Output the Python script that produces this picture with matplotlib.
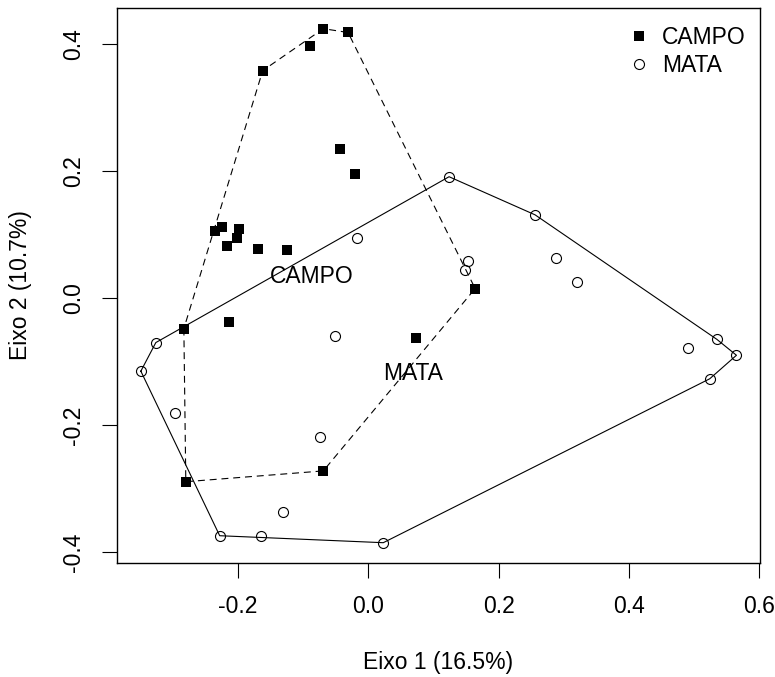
import numpy as np
import matplotlib
matplotlib.use("Agg")
import matplotlib.pyplot as plt
from matplotlib.lines import Line2D

plt.rcParams['font.family'] = ['Liberation Sans', 'DejaVu Sans']
plt.rcParams['lines.scale_dashes'] = False

# scores on the first two axes
campo_x = [-0.162, -0.089, -0.069, -0.031, -0.044, -0.021, -0.235, -0.224, -0.199, -0.202,
           -0.217, -0.169, -0.124, 0.164, -0.283, -0.214, 0.074, -0.069, -0.280]
campo_y = [0.358, 0.396, 0.424, 0.418, 0.234, 0.196, 0.106, 0.112, 0.109, 0.094,
           0.082, 0.077, 0.076, 0.015, -0.048, -0.037, -0.063, -0.272, -0.289]

mata_x = [0.124, -0.017, 0.153, 0.149, 0.256, 0.288, 0.320, 0.490, 0.535, 0.565,
          0.524, -0.326, -0.349, -0.297, -0.051, -0.074, -0.131, -0.228, -0.164, 0.023]
mata_y = [0.191, 0.095, 0.059, 0.044, 0.131, 0.063, 0.026, -0.079, -0.065, -0.090,
          -0.127, -0.070, -0.115, -0.181, -0.060, -0.218, -0.336, -0.374, -0.374, -0.385]

x_ticks = [-0.2, 0.0, 0.2, 0.4, 0.6]
y_ticks = [-0.4, -0.2, 0.0, 0.2, 0.4]
x_title = "Eixo 1 (16.5%)"
y_title = "Eixo 2 (10.7%)"


def hull(xs, ys):
    pts = sorted(set(zip(xs, ys)))

    def cross(o, a, b):
        return (a[0] - o[0]) * (b[1] - o[1]) - (a[1] - o[1]) * (b[0] - o[0])

    lower, upper = [], []
    for p in pts:
        while len(lower) >= 2 and cross(lower[-2], lower[-1], p) <= 0:
            lower.pop()
        lower.append(p)
    for p in reversed(pts):
        while len(upper) >= 2 and cross(upper[-2], upper[-1], p) <= 0:
            upper.pop()
        upper.append(p)
    return np.array(lower[:-1] + upper[:-1])


def poly_centre(h):
    x, y = h[:, 0], h[:, 1]
    x1, y1 = np.roll(x, -1), np.roll(y, -1)
    c = x * y1 - x1 * y
    a = c.sum() / 2
    return (x + x1).dot(c) / (6 * a), (y + y1).dot(c) / (6 * a)


fig = plt.figure(figsize=(7.75, 6.77), dpi=100)
ax = fig.add_axes([0.151, 0.168, 0.830, 0.820])

ax.plot(campo_x, campo_y, 's', color='black', ms=7.2, mew=0)
ax.plot(mata_x, mata_y, 'o', mfc='none', mec='black', ms=7.2, mew=0.8)

for xs, ys, ls, name in [(campo_x, campo_y, (0, (5, 3.5)), "CAMPO"),
                         (mata_x, mata_y, '-', "MATA")]:
    h = hull(xs, ys)
    closed = np.vstack([h, h[:1]])
    ax.plot(closed[:, 0], closed[:, 1], color='black', lw=0.8, linestyle=ls)
    cx, cy = poly_centre(h)
    ax.text(cx, cy, name, ha='center', va='center_baseline', fontsize=16.5)

xr = max(campo_x + mata_x) - min(campo_x + mata_x)
yr = max(campo_y + mata_y) - min(campo_y + mata_y)
ax.set_xlim(min(campo_x + mata_x) - 0.04 * xr, max(campo_x + mata_x) + 0.04 * xr)
ax.set_ylim(min(campo_y + mata_y) - 0.04 * yr, max(campo_y + mata_y) + 0.04 * yr)

ax.set_xticks(x_ticks)
ax.set_xticklabels([f"{v:.1f}" for v in x_ticks])
ax.set_yticks(y_ticks)
ax.set_yticklabels([f"{v:.1f}" for v in y_ticks], rotation=90, va='center')
ax.tick_params(labelsize=16.5, length=11, width=0.8, pad=12, direction='out')
for s in ax.spines.values():
    s.set_linewidth(1.0)

fig.text(438 / 775, 1 - 663 / 677, x_title, ha='center', va='center', fontsize=16.5)
fig.text(21 / 775, 1 - 285 / 677, y_title, ha='center', va='center', fontsize=16.5, rotation=90)

handles = [Line2D([], [], marker='s', ls='none', color='black', ms=7.5, mew=0),
           Line2D([], [], marker='o', ls='none', mfc='none', mec='black', ms=7.2, mew=0.8)]
ax.legend(handles, ["CAMPO", "MATA"], loc='upper right', bbox_to_anchor=(746 / 775, 1 - 25.7 / 677),
          bbox_transform=fig.transFigure, frameon=False, fontsize=16.5, borderpad=0,
          borderaxespad=0, handlelength=1.0, handletextpad=0.52, labelspacing=0.23)

fig.savefig("out.png", dpi=100)
